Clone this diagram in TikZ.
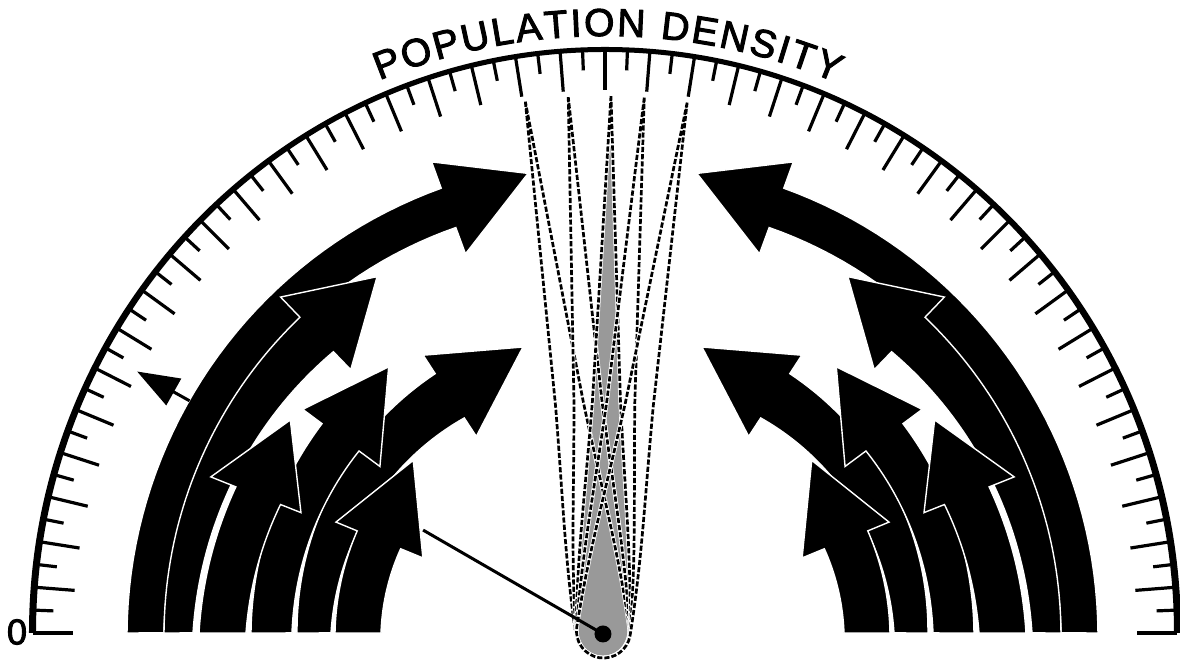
\documentclass[tikz,border=0pt]{standalone}
\usepackage{fontspec}
\setmainfont{Liberation Sans}
\newfontfamily\dialface[FakeBold=2.5]{Liberation Sans}
\usepackage{tikz}
\usetikzlibrary{arrows.meta}

\newcommand{\needlepath}{(0,538) -- (-14,233) .. controls (-20,140) and (-27,80) .. (-27,3)
  arc[start angle=180, end angle=360, radius=27] .. controls (27,80) and (20,140) .. (14,233) -- cycle}

\newcommand{\swirl}[9]{%
  \filldraw[bigarrow]
    plot[domain=0:1, samples=40, variable=\t] ({180+(#5-180)*\t}:{#2+(#4-#2)*\t})
    -- (#5:#7) -- (#8:#9) -- (#5:#6)
    -- plot[domain=0:1, samples=40, variable=\t] ({#5+(180-#5)*\t}:{#3+(#1-#3)*\t})
    -- cycle;}

\newcommand{\swirlset}{%
  \swirl{441}{478}{432}{474}{110.2}{404}{502}{99.5}{466}
  \swirl{412}{441}{391}{439}{134}{366}{467}{122.6}{423}
  \swirl{274}{308}{257}{310}{123.2}{235}{332}{106}{297.5}
  \swirl{313}{354}{306}{352}{143.5}{280}{376}{129.1}{343}
  \swirl{224}{270}{221}{268}{157.6}{197}{291}{138}{258}
  \swirl{359}{406}{349}{397}{158.4}{327}{424}{145.9}{380}}

\begin{document}
\begin{tikzpicture}[
    x=0.5pt, y=0.5pt,
    bigarrow/.style={fill=black, draw=white, line width=0.7pt, line join=miter},
    scalemark/.style={line width=1.6pt},
    needle/.style={fill=black!40},
    ghost/.style={draw=white, line width=2.1pt, line join=round},
    ghostdash/.style={draw=black, line width=1.35pt, line join=round, dash pattern=on 2.6pt off 1pt},
    pointer/.style={line width=1.5pt},
    letter/.style={font=\dialface\fontsize{19.5}{21}\selectfont, inner sep=0pt, anchor=base},
    dialfont/.style={font=\dialface\fontsize{18}{20}\selectfont, inner sep=0pt}
]
\useasboundingbox (-605,-29) rectangle (575,633);
\coordinate (pivot) at (-2,-1);

% dial
\fill (576,0) arc[start angle=0, end angle=180, x radius=576, y radius=586]
  -- (-569,0) arc[start angle=180, end angle=0, x radius=569, y radius=581] -- cycle;
\foreach \i in {0,...,80}{
  \pgfmathsetmacro\tickang{2.25*\i}
  \pgfmathsetmacro\marklen{isodd(\i) ? 20 : 40}
  \draw[scalemark] ({572*cos(\tickang)},{583*sin(\tickang)}) -- ++({\tickang+180}:\marklen);
}
\foreach \ch/\c/\j [count=\k] in {P/0.3335/0, O/1.056/1, P/1.7785/2, U/2.473/3, L/3.112/4,
    A/3.7235/5, T/4.3625/6, I/4.807/7, O/5.335/8, N/6.085/9, D/7.085/11, E/7.7795/12,
    N/8.474/13, S/9.1685/14, I/9.641/15, T/10.0855/16, Y/10.7245/17}{
  \pgfmathsetmacro\tickang{89.7+(234.4-(\c*39+\j*2.2))*0.095973}
  \node[letter, rotate=\tickang-90] (title\k) at (\tickang:597) {\ch};
}
\node[dialfont] (zero) at (-588,1) {0};

% needle
\fill[needle, shift={(pivot)}, rotate=-0.85] \needlepath;
\foreach \r in {8.3,3.7,-0.85,-4.4,-9.0}{
  \draw[ghost, shift={(pivot)}, rotate=\r] \needlepath;
  \draw[ghostdash, shift={(pivot)}, rotate=\r] \needlepath;
}
\coordinate (hit) at (150.5:209);
\draw[pointer] (pivot) -- (hit);
\fill (pivot) circle[radius=8.5];

% arrows
\swirlset
\begin{scope}[xshift=7.5pt, xscale=-1]
\swirlset
\end{scope}
\coordinate (rim) at (150.8:476);
\coordinate (mark) at (150.8:536);
\draw[pointer, -{Triangle[length=21pt, width=15pt]}] (rim) -- (mark);
\end{tikzpicture}
\end{document}
